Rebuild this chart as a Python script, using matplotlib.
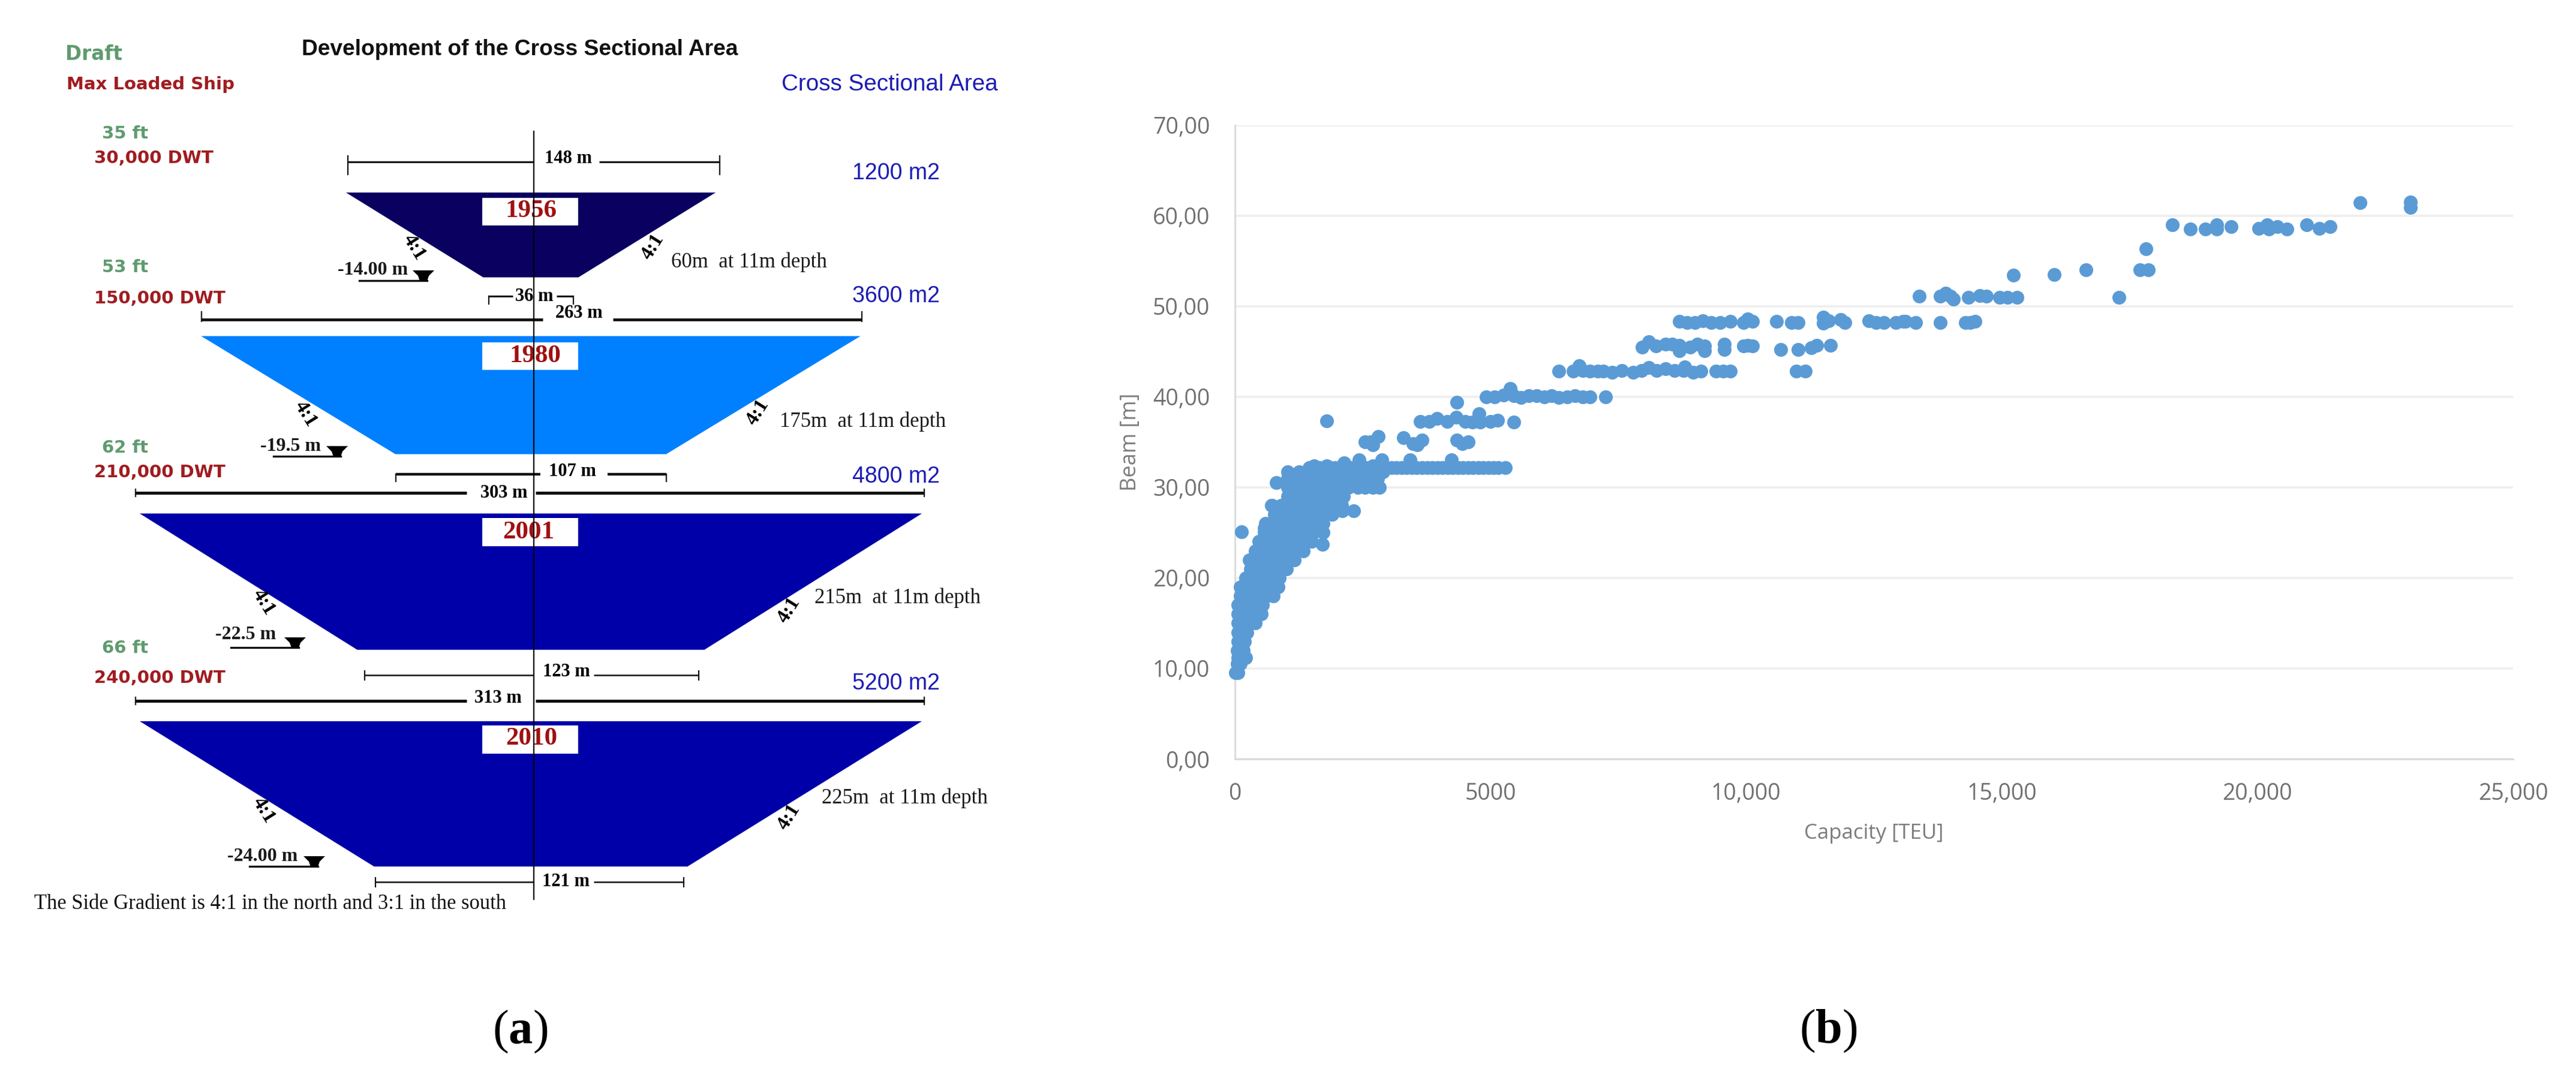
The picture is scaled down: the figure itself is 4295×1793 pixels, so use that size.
import matplotlib
matplotlib.use("Agg")
import matplotlib.pyplot as plt
from matplotlib.patches import Polygon, Rectangle
from matplotlib.transforms import Affine2D

W, H = 4295, 1793

# (a) cross sections, widths as drawn in the picture (metres)
section_years = ["1956", "1980", "2001", "2010"]
top_width = [147.4, 263, 312, 312]
bottom_width = [38, 108, 138.5, 125]
depth = [14.0, 19.5, 22.5, 24.0]
section_top = [31.8, 55.5, 84.8, 119.1]
section_colors = ["#0a0060", "#0080ff", "#0000a8", "#0000a8"]

draft_labels = ["35 ft", "53 ft", "62 ft", "66 ft"]
ship_labels = ["30,000 DWT", "150,000 DWT", "210,000 DWT", "240,000 DWT"]
area_labels = ["1200 m2", "3600 m2", "4800 m2", "5200 m2"]
depth_labels = ["-14.00 m", "-19.5 m", "-22.5 m", "-24.00 m"]
width_11m_labels = ["60m  at 11m depth", "175m  at 11m depth", "215m  at 11m depth", "225m  at 11m depth"]

# (b) beam against capacity, dense part read row by row
dense_beam = [9.5, 10.5, 11.2, 12, 13, 14, 15, 16, 17, 18, 19, 20, 21, 22, 23, 24, 25, 26, 27, 28, 29, 30, 31, 31.7,
              31.9, 32.2, 32.4]
dense_teu = [
    [10, 60],
    [50, 110],
    [60, 130, 210],
    [50, 110, 170],
    [60, 120, 190],
    [60, 150, 240],
    [60, 170, 280, 400],
    [60, 180, 300, 420, 520],
    [60, 180, 300, 420, 540],
    [100, 230, 360, 490, 620, 750],
    [100, 250, 400, 550, 700, 850],
    [210, 340, 470, 600, 730, 870],
    [300, 440, 580, 720, 860, 1010],
    [280, 420, 560, 700, 840, 980, 1165],
    [400, 550, 700, 850, 1000, 1170, 1340],
    [470, 620, 770, 920, 1070, 1220, 1370, 1500],
    [580, 740, 900, 1060, 1220, 1380, 1540, 1730],
    [600, 760, 920, 1080, 1240, 1400, 1560, 1720],
    [775, 950, 1120, 1290, 1460, 1600, 1730, 1900],
    [725, 900, 1080, 1260, 1440, 1620, 1800, 1950, 2085],
    [1030, 1200, 1370, 1540, 1710, 1880, 2000, 2125],
    [1030, 1200, 1370, 1540, 1710, 1880, 2050, 2220, 2400, 2550, 2700, 2830],
    [1030, 1200, 1370, 1540, 1710, 1880, 2050, 2220, 2400, 2550, 2700, 2790],
    [1030, 1250, 1400, 1550, 1700, 1900, 2100, 2300, 2500, 2700, 2900],
    [1545, 1800, 2100, 2400, 2700, 2900],
    [1460, 1560, 1660, 1760, 1860, 1960, 2060, 2160, 2260, 2360, 2460, 2560, 2660, 2760, 2860, 2960, 3060, 3160,
     3260, 3360, 3460, 3560, 3660, 3760, 3860, 3960, 4060, 4160, 4260, 4360, 4460, 4560, 4660, 4760, 4860, 4960,
     5060, 5150, 5290],
    [1545, 1800, 2100, 2400, 2700, 2900],
]
extra_teu = [130, 1712, 815, 715, 580, 2320, 2100, 2140, 2430, 2870, 3420, 4230]
extra_beam = [25.1, 23.7, 30.5, 28.0, 25.5, 27.4, 27.4, 32.7, 33.0, 33.0, 33.0, 33.0]

# upper, sparser part
row_35_teu = [2540, 2700, 2800, 2650, 3300, 3480, 3660, 3570, 4340, 4450, 4560]
row_35_beam = [35.0, 34.7, 35.6, 35.0, 35.5, 34.8, 35.2, 34.7, 35.2, 34.8, 35.0]
row_37_teu = [1800, 3620, 3800, 3950, 4150, 4330, 4500, 4650, 4800, 4780, 5000, 5140, 5455, 4342]
row_37_beam = [37.35, 37.3, 37.3, 37.6, 37.3, 37.7, 37.3, 37.2, 37.2, 38.1, 37.3, 37.4, 37.2, 39.4]
row_40_teu = [4915, 5080, 5250, 5390, 5450, 5600, 5750, 5900, 6050, 6200, 6335, 6500, 6650, 6800, 6950, 7250]
row_40_beam = [40.0, 40.0, 40.2, 40.9, 40.1, 39.9, 40.1, 40.1, 40.0, 40.1, 39.9, 40.0, 40.1, 40.0, 40.0, 40.0]
row_43_teu = [6335, 6620, 6730, 6800, 6950, 7100, 7200, 7385, 7565, 7790, 7950, 8100, 8250, 8420, 8600, 8780, 8960,
              8800, 9120, 9405, 9550, 9690, 10980, 11155]
row_43_beam = [42.8, 42.8, 43.4, 42.9, 42.8, 42.8, 42.8, 42.7, 42.9, 42.7, 42.9, 43.2, 42.9, 43.1, 42.9, 42.9, 42.7,
               43.3, 42.8, 42.8, 42.8, 42.8, 42.8, 42.8]
row_45_teu = [7970, 8100, 8240, 8420, 8550, 8690, 8690, 8910, 9050, 9180, 9180, 9570, 9570, 9945, 10030, 10120,
              10680, 11020, 11270, 11380, 11650]
row_45_beam = [45.5, 46.1, 45.6, 45.8, 45.8, 45.7, 45.1, 45.5, 45.8, 45.6, 45.1, 45.8, 45.2, 45.6, 45.7, 45.6,
               45.2, 45.2, 45.4, 45.7, 45.7]
row_48_teu = [8690, 8850, 9000, 9150, 9320, 9490, 9690, 9945, 10030, 10120, 10590, 10890, 11020, 11505, 11505, 11620,
              11844, 11930, 12396, 12540, 12690, 12930, 13074, 13120, 13317, 13800, 14285, 14380, 14480]
row_48_beam = [48.3, 48.2, 48.2, 48.4, 48.2, 48.2, 48.3, 48.2, 48.6, 48.3, 48.3, 48.2, 48.2, 48.8, 48.1, 48.4,
               48.5, 48.2, 48.4, 48.2, 48.2, 48.2, 48.3, 48.3, 48.2, 48.2, 48.2, 48.2, 48.3]
row_51_teu = [13385, 13800, 13900, 13995, 14060, 14353, 14576, 14700, 14960, 15108, 15300]
row_51_beam = [51.1, 51.1, 51.4, 51.1, 50.8, 51.0, 51.2, 51.1, 51.0, 51.0, 51.0]
top_teu = [15225, 16029, 16650, 17288, 17705, 17870, 17820, 18334, 18683, 18983, 19206, 19206, 19487,
           20030, 20194, 20223, 20388, 20582, 20960, 21211, 21425, 22006, 22994, 22994]
top_beam = [53.4, 53.5, 54.0, 51.0, 54.0, 54.0, 56.3, 59.0, 58.5, 58.5, 59.0, 58.5, 58.8,
            58.6, 59.0, 58.5, 58.8, 58.5, 59.0, 58.6, 58.8, 61.4, 61.5, 60.9]

x_ticks = [0, 5000, 10000, 15000, 20000, 25000]
x_tick_labels = ["0", "5000", "10,000", "15,000", "20,000", "25,000"]
y_ticks = [0, 10, 20, 30, 40, 50, 60, 70]
y_tick_labels = ["0,00", "10,00", "20,00", "30,00", "40,00", "50,00", "60,00", "70,00"]

plt.rcParams["font.family"] = ["Liberation Serif", "DejaVu Serif"]
plt.rcParams["mathtext.fontset"] = "custom"
plt.rcParams["mathtext.bf"] = "Liberation Serif:bold"
plt.rcParams["mathtext.rm"] = "Liberation Serif"

fig = plt.figure(figsize=(W / 100, H / 100), dpi=100, facecolor="white")

# text and dimension lines of (a) are placed in image pixels
px = Affine2D().scale(1 / W, -1 / H).translate(0, 1) + fig.transFigure

METRE_X, METRE_Y, CENTRE = 4.18, 10.1, 885
ax_a = fig.add_axes([0, 0, 1800 / W, 1])
ax_a.set_xlim(-CENTRE / METRE_X, (1800 - CENTRE) / METRE_X)
ax_a.set_ylim(H / METRE_Y, 0)
ax_a.axis("off")

GREEN, RED, BLUE, INK = "#5f9b6f", "#a01c20", "#1c1cb4", "#1a1a1a"


def label(x, y, s, size, color=INK, family="Liberation Serif", weight="normal", ha="left", rotation=0, z=4):
    ax_a.text(x, y, s, transform=px, fontsize=size, color=color, family=family, weight=weight,
              ha=ha, va="center", rotation=rotation, zorder=z, rotation_mode="anchor" if rotation == 0 else "default")


def dimension(y, x0, x1, x2, x3, text_x, text_y, text, lw=2.2, up=10, down=10):
    ax_a.plot([x0, x1], [y, y], transform=px, color="#111111", lw=lw, solid_capstyle="butt", zorder=3)
    ax_a.plot([x2, x3], [y, y], transform=px, color="#111111", lw=lw, solid_capstyle="butt", zorder=3)
    for xe in (x0, x3):
        ax_a.plot([xe, xe], [y - up, y + down], transform=px, color="#111111", lw=1.6, zorder=3)
    label(text_x, text_y, text, 22, color="black", weight="bold", ha="center")


def ship_mark(x_line0, x_line1, y):
    # water level line with the small black mark at its right end
    ax_a.plot([x_line0, x_line1], [y, y], transform=px, color="#111111", lw=2.4, zorder=3)
    xr = x_line1 + 12
    mark = Polygon([(xr - 36, y - 17), (xr, y - 17), (xr - 9, y - 8), (xr - 12, y + 1), (xr - 24, y + 1), (xr - 27, y - 8)],
                   closed=True, facecolor="black", edgecolor="none", transform=px, zorder=3)
    ax_a.add_patch(mark)


# trapezoids come from the section arrays
for i, year in enumerate(section_years):
    t, b = top_width[i] / 2, bottom_width[i] / 2
    y0, y1 = section_top[i], section_top[i] + depth[i]
    ax_a.add_patch(Polygon([(-t, y0), (t, y0), (b, y1), (-b, y1)], closed=True, facecolor=section_colors[i],
                           edgecolor="none", zorder=1))

box_tops = [330, 571, 864, 1210]
box_heights = [46, 46, 47, 47]
year_x = [886, 892, 881, 886]
year_y = [352, 594, 888, 1232]
for i, year in enumerate(section_years):
    ax_a.add_patch(Rectangle((804, box_tops[i]), 160, box_heights[i], facecolor="white", edgecolor="none",
                             transform=px, zorder=2))
    label(year_x[i], year_y[i], year, 31, color="#a01010", weight="bold", ha="center", z=2.5)

# centre line runs over the years
ax_a.plot([890, 890], [219, 1500], transform=px, color="black", lw=1.6, zorder=3.5)

label(503, 82, "Development of the Cross Sectional Area", 26.7, color="#111111", family="Liberation Sans", weight="bold")
label(109, 91, "Draft", 23.5, color=GREEN, family="DejaVu Sans", weight="bold")
label(111, 141, "Max Loaded Ship", 21, color=RED, family="DejaVu Sans", weight="bold")
label(1303, 141, "Cross Sectional Area", 27.8, color=BLUE, family="Liberation Sans")

draft_y = [223, 446, 747, 1081]
ship_y = [264, 498, 788, 1131]
area_y = [289, 494, 795, 1140]
for i in range(4):
    label(170, draft_y[i], draft_labels[i], 21, color=GREEN, family="DejaVu Sans", weight="bold")
    label(157, ship_y[i], ship_labels[i], 21, color=RED, family="DejaVu Sans", weight="bold")
    label(1567, area_y[i], area_labels[i], 27, color=BLUE, family="Liberation Sans", ha="right")

width_x = [1119, 1300, 1358, 1370]
width_y = [437, 703, 997, 1331]
for i in range(4):
    label(width_x[i], width_y[i], width_11m_labels[i], 25)

depth_x = [563, 434, 359, 379]
depth_y = [450, 745, 1058, 1429]
line_x = [(599, 712), (456, 568), (385, 498), (416, 530)]
line_y = [468, 761, 1080, 1445]
for i in range(4):
    label(depth_x[i], depth_y[i], depth_labels[i], 23, weight="bold")
    ship_mark(line_x[i][0], line_x[i][1], line_y[i])

slope_left = [(690, 412), (509, 690), (439, 1004), (439, 1351)]
slope_right = [(1088, 412), (1263, 688), (1315, 1018), (1315, 1363)]
for (xl, yl), (xr, yr) in zip(slope_left, slope_right):
    label(xl, yl, "4:1", 24, color="black", weight="bold", ha="center", rotation=-58)
    label(xr, yr, "4:1", 24, color="black", weight="bold", ha="center", rotation=58)

dimension(270, 580, 890, 999, 1200, 947, 265, "148 m", up=10, down=21)
dimension(494, 815, 855, 928, 956, 891, 494, "36 m", up=0, down=13)
dimension(533, 336, 905, 1022, 1437, 965, 523, "263 m", lw=3.4, up=13, down=3)
dimension(791, 660, 901, 1013, 1111, 954, 787, "107 m", lw=3.2, up=0, down=12)
dimension(822, 226, 778, 893, 1541, 840, 823, "303 m", lw=3.6, up=6, down=6)
dimension(1126, 608, 890, 990, 1165, 944, 1121, "123 m", lw=1.8, up=7, down=8)
dimension(1169, 226, 778, 893, 1541, 830, 1165, "313 m", lw=3.6, up=6, down=6)
dimension(1471, 626, 890, 990, 1140, 944, 1470, "121 m", lw=1.8, up=7, down=8)

label(57, 1507, "The Side Gradient is 4:1 in the north and 3:1 in the south", 24.85, color="#111111")
label(867, 1721, r"($\mathbf{a}$)", 58, color="black", ha="center")
label(3048, 1720, r"($\mathbf{b}$)", 58, color="black", ha="center")

# (b) scatter
ax_b = fig.add_axes([2059 / W, (H - 1266) / H, 2131 / W, 1057.5 / H])
ax_b.set_xlim(0, 25000)
ax_b.set_ylim(0, 70)

MARK = dict(s=275, color="#5b9bd5", linewidths=0, zorder=3, clip_on=False)
for beam, teus in zip(dense_beam, dense_teu):
    ax_b.scatter(teus, [beam] * len(teus), **MARK)
ax_b.scatter(extra_teu, extra_beam, **MARK)
for xs, ys in [(row_35_teu, row_35_beam), (row_37_teu, row_37_beam), (row_40_teu, row_40_beam),
               (row_43_teu, row_43_beam), (row_45_teu, row_45_beam), (row_48_teu, row_48_beam),
               (row_51_teu, row_51_beam), (top_teu, top_beam)]:
    ax_b.scatter(xs, ys, **MARK)

ax_b.set_xticks(x_ticks, x_tick_labels)
ax_b.set_yticks(y_ticks, y_tick_labels)
ax_b.grid(axis="y", color="#eeeeee", lw=2.6)
ax_b.set_axisbelow(True)
for side in ("top", "right"):
    ax_b.spines[side].set_visible(False)
for side in ("left", "bottom"):
    ax_b.spines[side].set_color("#d9d9d9")
    ax_b.spines[side].set_linewidth(2)
ax_b.tick_params(length=0, labelsize=27, labelcolor="#707070", pad=28)
for lab in ax_b.get_xticklabels() + ax_b.get_yticklabels():
    lab.set_family("Open Sans")
ax_b.tick_params(axis="y", pad=30)
ax_b.set_xlabel("Capacity [TEU]", fontsize=25, color="#7c7c7c", family="Open Sans", labelpad=22)
ax_b.set_ylabel("Beam [m]", fontsize=26, color="#7c7c7c", family="Open Sans", labelpad=14)

fig.savefig("out.png", dpi=100)
